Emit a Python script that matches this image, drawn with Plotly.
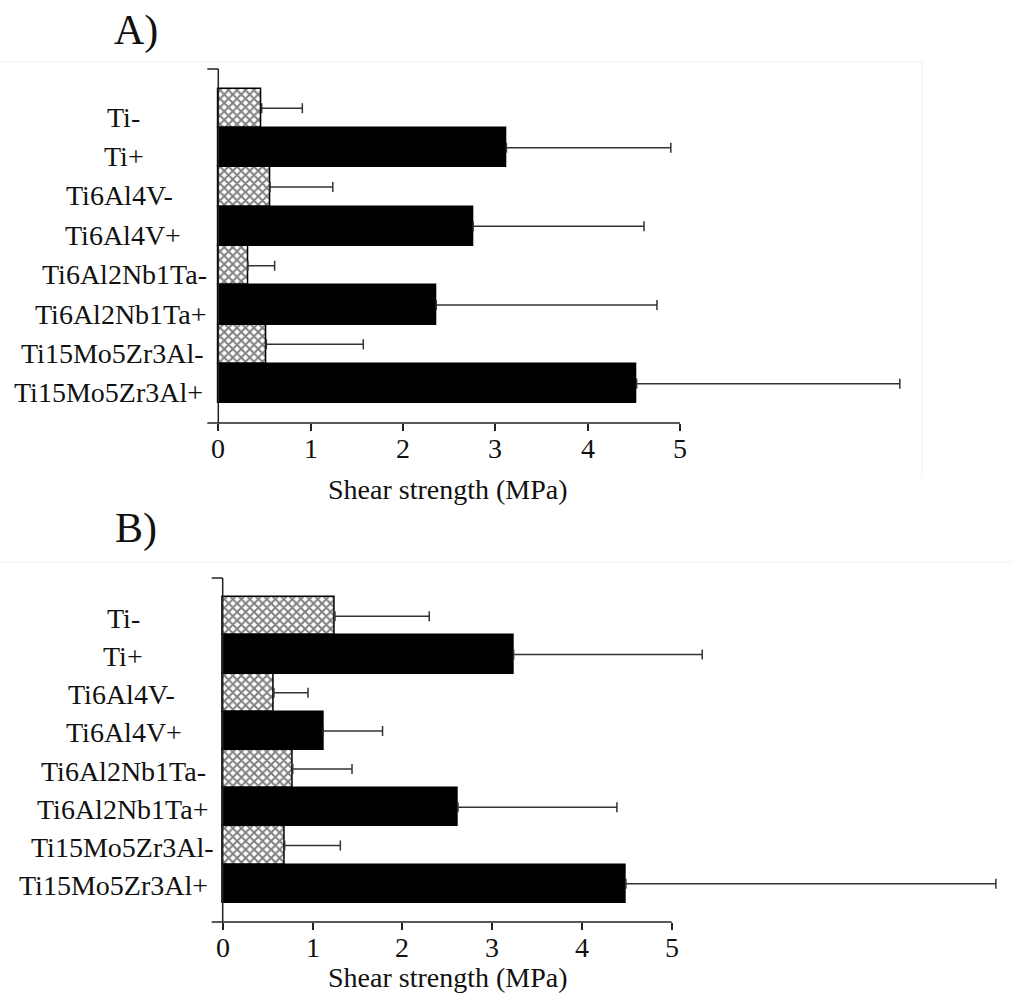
import plotly.graph_objects as go

# ---------------- data ----------------
categories = ["Ti-", "Ti+", "Ti6Al4V-", "Ti6Al4V+",
              "Ti6Al2Nb1Ta-", "Ti6Al2Nb1Ta+", "Ti15Mo5Zr3Al-", "Ti15Mo5Zr3Al+"]
a_mean = [0.47, 3.12, 0.56, 2.76, 0.32, 2.36, 0.52, 4.53]
a_err = [0.44, 1.78, 0.68, 1.85, 0.29, 2.39, 1.05, 2.85]
b_mean = [1.25, 3.24, 0.57, 1.12, 0.78, 2.62, 0.69, 4.49]
b_err = [1.05, 2.10, 0.38, 0.66, 0.66, 1.77, 0.62, 4.12]
x_ticks = [0, 1, 2, 3, 4, 5]
x_title = "Shear strength (MPa)"
panel_labels = ["A)", "B)"]

# ---------------- layout constants ----------------
W, H = 1012, 996
FONT = "Liberation Serif, Times New Roman, serif"
INK = "#111111"

# horizontal centres (px) of the row labels, as in the scanned figure
label_cx_a = [123, 124, 119, 123, 124, 121, 112, 108]
label_cx_b = [123, 123, 121, 124, 123, 123, 122, 113]

panels = [
    dict(mean=a_mean, err=a_err, x0=218.3, k=92.35, top=69, bot=423,
         lab=panel_labels[0], lab_y=30, title_y=489, shift=-9,
         lab_cx=label_cx_a, tick_y=448),
    dict(mean=b_mean, err=b_err, x0=222.7, k=89.8, top=578, bot=922,
         lab=panel_labels[1], lab_y=528, title_y=977, shift=-2,
         lab_cx=label_cx_b, tick_y=947),
]

fig = go.Figure()
layout = dict(width=W, height=H, margin=dict(l=0, r=0, t=0, b=0),
              paper_bgcolor="white", plot_bgcolor="white",
              showlegend=False, bargap=0, barmode="overlay",
              shapes=[], annotations=[])

EXT = 11  # px that axis lines stick out to the left

for i, p in enumerate(panels):
    sfx = "" if i == 0 else str(i + 1)
    xa, ya = "x" + sfx, "y" + sfx
    lo = -EXT / p["k"]
    hi = (W - p["x0"]) / p["k"]
    for neg in (True, False):
        idx = [j for j, c in enumerate(categories) if c.endswith("-") == neg]
        if neg:
            marker = dict(color="white", line=dict(color="black", width=1.5),
                          pattern=dict(shape="x", fgcolor="black", size=6,
                                       solidity=0.55, fillmode="overlay"))
        else:
            marker = dict(color="black", line=dict(color="black", width=1.5))
        fig.add_trace(go.Bar(
            x=[p["mean"][j] for j in idx], y=[categories[j] for j in idx],
            orientation="h", xaxis=xa, yaxis=ya, width=1.0, marker=marker,
            error_x=dict(type="data", symmetric=False,
                         array=[p["err"][j] for j in idx],
                         arrayminus=[0] * len(idx),
                         color="#333333", thickness=1.5, width=5),
            hoverinfo="skip",
        ))
    layout["xaxis" + sfx] = dict(
        domain=[(p["x0"] - EXT) / W, 1.0], range=[lo, hi], anchor=ya,
        tickvals=x_ticks, ticks="outside", ticklen=7, tickwidth=1.5,
        tickcolor="#222", showgrid=False, zeroline=False, showline=False,
        showticklabels=False, fixedrange=True,
    )
    layout["yaxis" + sfx] = dict(
        domain=[1 - p["bot"] / H, 1 - p["top"] / H], range=[8, -1],
        type="category", categoryorder="array", categoryarray=categories,
        anchor=xa, showticklabels=False, showgrid=False, zeroline=False,
        showline=False, ticks="", fixedrange=True,
    )

    def px(v, p=p):
        return (p["x0"] + v * p["k"]) / W

    ytop = 1 - p["top"] / H
    ybot = 1 - p["bot"] / H
    ln = dict(color="#222222", width=1.5)
    layout["shapes"] += [
        dict(type="line", xref="paper", yref="paper", x0=px(0), x1=px(0),
             y0=ybot, y1=ytop, line=ln, layer="above"),
        dict(type="line", xref="paper", yref="paper", x0=px(lo), x1=px(0),
             y0=ytop, y1=ytop, line=ln, layer="above"),
        dict(type="line", xref="paper", yref="paper", x0=px(lo), x1=px(x_ticks[-1]),
             y0=ybot, y1=ybot, line=ln, layer="above"),
    ]
    for c, cx in zip(categories, p["lab_cx"]):
        layout["annotations"].append(dict(
            x=cx / W, xref="paper", y=c, yref=ya, text=c,
            showarrow=False, xanchor="center", yanchor="middle",
            yshift=p["shift"], font=dict(family=FONT, size=28, color=INK)))
    for t in x_ticks:
        layout["annotations"].append(dict(
            x=t, xref=xa, y=1 - p["tick_y"] / H, yref="paper", text=str(t),
            showarrow=False, xanchor="center", yanchor="middle",
            font=dict(family=FONT, size=28, color=INK)))
    layout["annotations"].append(dict(
        x=448 / W, xref="paper", y=1 - p["title_y"] / H, yref="paper",
        text=x_title, showarrow=False, xanchor="center", yanchor="middle",
        font=dict(family=FONT, size=28, color=INK)))
    layout["annotations"].append(dict(
        x=136 / W, xref="paper", y=1 - p["lab_y"] / H, yref="paper",
        text=p["lab"], showarrow=False, xanchor="center", yanchor="middle",
        font=dict(family=FONT, size=42, color=INK)))

# faint scan frame lines
faint = dict(color="#f1f1f1", width=1)
layout["shapes"] += [
    dict(type="line", xref="paper", yref="paper", x0=0, x1=922 / W,
         y0=1 - 62 / H, y1=1 - 62 / H, line=faint, layer="below"),
    dict(type="line", xref="paper", yref="paper", x0=922 / W, x1=922 / W,
         y0=1 - 62 / H, y1=1 - 477 / H, line=faint, layer="below"),
    dict(type="line", xref="paper", yref="paper", x0=0, x1=1,
         y0=1 - 562 / H, y1=1 - 562 / H, line=faint, layer="below"),
]

fig.update_layout(**layout)
fig.write_html("out.html", config={"displayModeBar": False},
               post_script="document.body.style.margin='0px';"
                           "document.body.style.overflow='hidden';")
